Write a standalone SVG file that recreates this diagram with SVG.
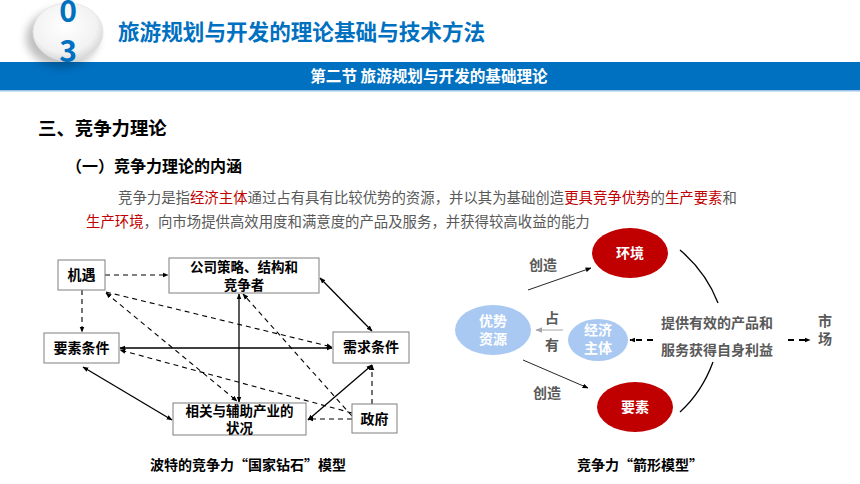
<svg xmlns="http://www.w3.org/2000/svg" width="860" height="484" viewBox="0 0 860 484">
<defs>
<style>
text{font-family:"Noto Sans CJK SC","Noto Sans",sans-serif;}
.b{font-weight:700;}
.box{fill:#fff;stroke:#7f7f7f;stroke-width:1;}
.nt{font-size:14px;font-weight:700;fill:#000;text-anchor:middle;}
.nt2{font-size:13.5px;font-weight:700;fill:#000;text-anchor:middle;}
.sl{stroke:#000;stroke-width:1.3;fill:none;}
.dl{stroke:#000;stroke-width:1.1;fill:none;stroke-dasharray:5 4;}
.para{font-size:14.4px;fill:#595959;}
.red{fill:#c00000;}
.gt{font-size:14px;font-weight:700;fill:#595959;text-anchor:middle;}
.wt{font-size:14px;font-weight:700;fill:#fff;text-anchor:middle;}
</style>
<marker id="ah" viewBox="0 0 10 10" refX="9" refY="5" markerWidth="6" markerHeight="6" markerUnits="userSpaceOnUse" orient="auto-start-reverse">
<path d="M0,1 L10,5 L0,9 z" fill="#000"/>
</marker>
<marker id="ahg" viewBox="0 0 10 10" refX="9" refY="5" markerWidth="7" markerHeight="7" markerUnits="userSpaceOnUse" orient="auto-start-reverse">
<path d="M0,1 L10,5 L0,9 z" fill="#a6a6a6"/>
</marker>
<radialGradient id="lg" cx="0.45" cy="0.4" r="0.65">
<stop offset="0" stop-color="#ffffff"/>
<stop offset="0.7" stop-color="#f2f2f2"/>
<stop offset="1" stop-color="#cfcfcf"/>
</radialGradient>
<filter id="sh" x="-50%" y="-50%" width="200%" height="200%">
<feGaussianBlur stdDeviation="4"/>
</filter>
</defs>
<rect width="860" height="484" fill="#fff"/>

<!-- header -->
<g id="header">
<rect x="0" y="62" width="860" height="28" fill="#0070c0"/>
<rect x="0" y="90" width="860" height="1.5" fill="#9dc3e6"/>
<ellipse cx="62" cy="38" rx="36" ry="29" fill="#000" opacity="0.25" filter="url(#sh)"/>
<ellipse cx="68" cy="32" rx="35" ry="29" fill="url(#lg)" stroke="#e3e3e3" stroke-width="0.8"/>
<text x="68" y="22" font-size="30" class="b" fill="#0070c0" text-anchor="middle">0</text>
<text x="68" y="62" font-size="30" class="b" fill="#0070c0" text-anchor="middle">3</text>
<text x="118" y="40" font-size="21.6" class="b" fill="#0070c0">旅游规划与开发的理论基础与技术方法</text>
<text x="429" y="82" font-size="15.6" class="b" fill="#fff" text-anchor="middle">第二节 旅游规划与开发的基础理论</text>
</g>

<g id="headings">
<text x="38" y="135" font-size="18.4" class="b" fill="#000">三、竞争力理论</text>
<text x="66" y="172" font-size="16" class="b" fill="#000">（一）竞争力理论的内涵</text>
<text x="118" y="203" class="para">竞争力是指<tspan class="red">经济主体</tspan>通过占有具有比较优势的资源，并以其为基础创造<tspan class="red">更具竞争优势</tspan>的<tspan class="red">生产要素</tspan>和</text>
<text x="86" y="227" class="para"><tspan class="red">生产环境</tspan>，向市场提供高效用度和满意度的产品及服务，并获得较高收益的能力</text>
</g>

<!-- left diagram connectors -->
<g id="connectors-left">
<line class="dl" x1="105" y1="275" x2="168" y2="275" marker-end="url(#ah)"/>
<line class="dl" x1="82" y1="290" x2="82" y2="332" marker-end="url(#ah)"/>
<line class="dl" x1="106" y1="292" x2="332" y2="347" marker-end="url(#ah)"/>
<line class="dl" x1="106" y1="293" x2="237" y2="401" marker-start="url(#ah)" marker-end="url(#ah)"/>
<line class="dl" x1="352" y1="416" x2="243" y2="294" marker-end="url(#ah)"/>
<line class="dl" x1="352" y1="413" x2="120" y2="350" marker-end="url(#ah)"/>
<line class="dl" x1="352" y1="419" x2="308" y2="419" marker-end="url(#ah)"/>
<line class="dl" x1="372" y1="404" x2="372" y2="365" marker-end="url(#ah)"/>
<line class="sl" x1="120" y1="348" x2="332" y2="348" marker-start="url(#ah)" marker-end="url(#ah)"/>
<line class="sl" x1="239" y1="294" x2="239" y2="402" marker-start="url(#ah)" marker-end="url(#ah)"/>
<line class="sl" x1="320" y1="278" x2="372" y2="331" marker-start="url(#ah)" marker-end="url(#ah)"/>
<line class="sl" x1="83" y1="367" x2="172" y2="420" marker-start="url(#ah)" marker-end="url(#ah)"/>
<line class="sl" x1="372" y1="365" x2="308" y2="420" marker-start="url(#ah)" marker-end="url(#ah)"/>
</g>

<g id="n-jiyu">
<rect class="box" x="58" y="260" width="47" height="30"/>
<text class="nt" x="81.5" y="280">机遇</text>
</g>
<g id="n-gongsi">
<rect class="box" x="169" y="258" width="150" height="35"/>
<text class="nt2" x="244" y="272">公司策略、结构和</text>
<text class="nt2" x="244" y="290">竞争者</text>
</g>
<g id="n-yaosu">
<rect class="box" x="44" y="333" width="75" height="30"/>
<text class="nt" x="81.5" y="353">要素条件</text>
</g>
<g id="n-xuqiu">
<rect class="box" x="333" y="332" width="76" height="31"/>
<text class="nt" x="371" y="352">需求条件</text>
</g>
<g id="n-xiangguan">
<rect class="box" x="173" y="403" width="133" height="32"/>
<text class="nt2" x="239.5" y="416">相关与辅助产业的</text>
<text class="nt2" x="239.5" y="433">状况</text>
</g>
<g id="n-zhengfu">
<rect class="box" x="352" y="404" width="45" height="29"/>
<text class="nt" x="374.5" y="424">政府</text>
</g>
<text x="248" y="470" font-size="14" class="b" fill="#000" text-anchor="middle">波特的竞争力“国家钻石”模型</text>

<!-- right diagram -->
<g id="connectors-right">
<line x1="528" y1="290" x2="591" y2="268" stroke="#262626" stroke-width="1" marker-end="url(#ah)"/>
<line x1="523" y1="360" x2="588" y2="388" stroke="#262626" stroke-width="1" marker-end="url(#ah)"/>
<line x1="563" y1="330" x2="536" y2="330" stroke="#a6a6a6" stroke-width="1" marker-end="url(#ahg)"/>
<line x1="653" y1="340" x2="630" y2="340" stroke="#000" stroke-width="2" stroke-dasharray="6 5" marker-end="url(#ah)"/>
<line x1="788" y1="340" x2="810" y2="340" stroke="#000" stroke-width="2" stroke-dasharray="6 5" marker-end="url(#ah)"/>
<path d="M680,250 Q706,272 718,303" fill="none" stroke="#000" stroke-width="1.3"/>
<path d="M713,362 Q702,392 680,412" fill="none" stroke="#000" stroke-width="1.3"/>
</g>
<g id="n-huanjing">
<ellipse cx="630" cy="253" rx="38" ry="25" fill="#c00000"/>
<text class="wt" x="630" y="258">环境</text>
</g>
<g id="n-yaosu2">
<ellipse cx="635" cy="407" rx="38" ry="25" fill="#c00000"/>
<text class="wt" x="635" y="412">要素</text>
</g>
<g id="n-youshi">
<ellipse cx="493" cy="330" rx="38" ry="25" fill="#a9c9f2"/>
<text class="wt" x="493" y="326">优势</text>
<text class="wt" x="493" y="344">资源</text>
</g>
<g id="n-jingji">
<ellipse cx="598" cy="340" rx="30" ry="21" fill="#a9c9f2"/>
<text class="wt" x="598" y="335">经济</text>
<text class="wt" x="598" y="353">主体</text>
</g>
<text class="gt" x="552" y="323">占</text>
<text class="gt" x="552" y="350">有</text>
<text class="gt" x="543" y="270">创造</text>
<text class="gt" x="547" y="398">创造</text>
<text class="gt" x="717" y="328">提供有效的产品和</text>
<text class="gt" x="717" y="355">服务获得自身利益</text>
<text class="gt" x="825" y="326">市</text>
<text class="gt" x="825" y="344">场</text>
<text x="640" y="470" font-size="14" class="b" fill="#000" text-anchor="middle">竞争力“箭形模型”</text>
</svg>
